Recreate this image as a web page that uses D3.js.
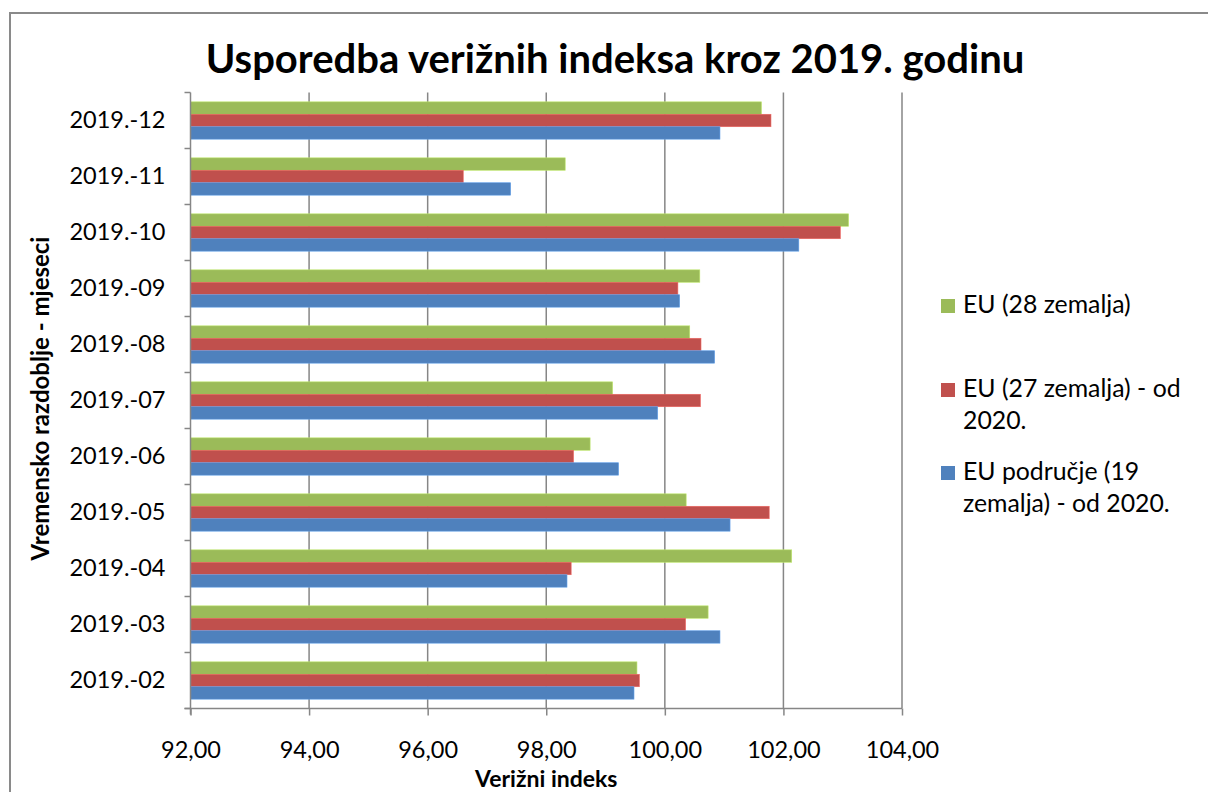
<!DOCTYPE html>
<html>
<head>
<meta charset="utf-8">
<script src="https://cdn.jsdelivr.net/npm/d3@7"></script>
<style>
  html, body { margin: 0; padding: 0; background: #ffffff; }
  svg { display: block; }
  text { font-family: Lato, "Open Sans", "Noto Sans", sans-serif; fill: #000; }
</style>
</head>
<body>
<svg id="chart" width="1208" height="792"></svg>
<script>
// ---- data ----
const months = ["2019.-02","2019.-03","2019.-04","2019.-05","2019.-06","2019.-07","2019.-08","2019.-09","2019.-10","2019.-11","2019.-12"];
const eu28 = [99.53, 100.73, 102.14, 100.36, 98.74, 99.12, 100.42, 100.59, 103.10, 98.32, 101.63];
const eu27 = [99.57, 100.35, 98.42, 101.76, 98.46, 100.60, 100.61, 100.22, 102.96, 96.60, 101.79];
const ea19 = [99.48, 100.93, 98.35, 101.10, 99.22, 99.88, 100.84, 100.25, 102.26, 97.40, 100.93];
const seriesNames = ["EU (28 zemalja)", "EU (27 zemalja) - od 2020.", "EU područje (19 zemalja) - od 2020."];
const legendLines = [["EU (28 zemalja)"], ["EU (27 zemalja) - od", "2020."], ["EU područje (19", "zemalja) - od 2020."]];
const xTicks = [92, 94, 96, 98, 100, 102, 104];
const titleText = "Usporedba verižnih indeksa kroz 2019. godinu";
const xTitle = "Verižni indeks";
const yTitle = "Vremensko razdoblje - mjeseci";

(function () {
const colors = ["#9BBB59", "#C0504D", "#4F81BD"];
const seriesVals = [eu28, eu27, ea19];

const svg = d3.select("#chart");

// outer frame
svg.append("rect").attr("x", 10).attr("y", 13).attr("width", 1300).attr("height", 900)
  .attr("fill", "none").attr("stroke", "#8a8a8a").attr("stroke-width", 2);

const pL = 190.5, pR = 902, pT = 92.5, pB = 708.5;

const x = d3.scaleLinear().domain([92, 104]).range([pL, pR]);
const y = d3.scaleBand().domain(months.slice().reverse()).range([pT, pB])
  .paddingInner(1/3).paddingOuter(1/6);
const ySub = d3.scaleBand().domain([0, 1, 2]).range([0, y.bandwidth()]);

const gridColor = "#868686";

// vertical gridlines
svg.append("g").selectAll("line").data(xTicks.slice(1)).join("line")
  .attr("x1", d => x(d)).attr("x2", d => x(d))
  .attr("y1", pT).attr("y2", pB)
  .attr("stroke", gridColor).attr("stroke-width", 1.5);

// bars
const rows = months.map((m, i) => ({ m, vals: seriesVals.map(s => s[i]) }));
const g = svg.append("g");
rows.forEach(r => {
  r.vals.forEach((v, s) => {
    g.append("rect")
      .attr("x", x(92))
      .attr("y", y(r.m) + ySub(s))
      .attr("width", x(v) - x(92))
      .attr("height", ySub.bandwidth())
      .attr("fill", colors[s])
      .attr("stroke", d3.color(colors[s]).brighter(0.6))
      .attr("stroke-width", 0.6);
  });
});

// left axis line and boundary ticks
svg.append("line").attr("x1", pL).attr("x2", pL).attr("y1", pT).attr("y2", pB + 6)
  .attr("stroke", gridColor).attr("stroke-width", 1.5);
const step = y.step();
svg.append("g").selectAll("line").data(d3.range(months.length + 1)).join("line")
  .attr("x1", pL - 6).attr("x2", pL)
  .attr("y1", i => pT + i * step).attr("y2", i => pT + i * step)
  .attr("stroke", gridColor).attr("stroke-width", 1.5);

// y labels
const yAxis = svg.append("g").attr("transform", `translate(${pL},0)`)
  .call(d3.axisLeft(y).tickSize(0).tickPadding(25));
yAxis.select(".domain").remove();
yAxis.selectAll("text").style("font-size", "23.5px").style("font-family", "Lato, 'Open Sans', sans-serif").attr("fill", "#000");

// bottom axis
const xAxis = svg.append("g").attr("transform", `translate(0,${pB})`)
  .call(d3.axisBottom(x).tickValues(xTicks).tickSize(7).tickPadding(26)
    .tickFormat(d => d.toFixed(2).replace(".", ",")));
xAxis.select(".domain").attr("d", `M${pL - 6},0H${pR}`).attr("stroke", gridColor).attr("stroke-width", 1.5);
xAxis.selectAll(".tick line").attr("stroke", gridColor).attr("stroke-width", 1.5);
xAxis.selectAll("text").style("font-size", "23.5px").style("font-family", "Lato, 'Open Sans', sans-serif").attr("fill", "#000");

// title
svg.append("text").attr("x", 615).attr("y", 73).attr("text-anchor", "middle")
  .style("font-size", "40px").style("font-weight", "700").text(titleText);

// axis titles
svg.append("text").attr("x", (pL + pR) / 2).attr("y", 787).attr("text-anchor", "middle")
  .style("font-size", "23px").style("font-weight", "700").text(xTitle);
svg.append("text").attr("transform", `translate(49,${(pT + pB) / 2 - 2}) rotate(-90)`)
  .attr("text-anchor", "middle")
  .style("font-size", "24px").style("font-weight", "700").text(yTitle);

// legend
const legendBase = [313, 397, 480];
legendLines.forEach((lines, i) => {
  svg.append("rect").attr("x", 941).attr("y", legendBase[i] - 14).attr("width", 14).attr("height", 14)
    .attr("fill", colors[i]);
  const t = svg.append("text").attr("x", 963).attr("y", legendBase[i]).style("font-size", "24.8px");
  lines.forEach((ln, k) => {
    t.append("tspan").attr("x", 963).attr("y", legendBase[i] + k * 32).text(ln);
  });
});
})();
</script>
</body>
</html>
